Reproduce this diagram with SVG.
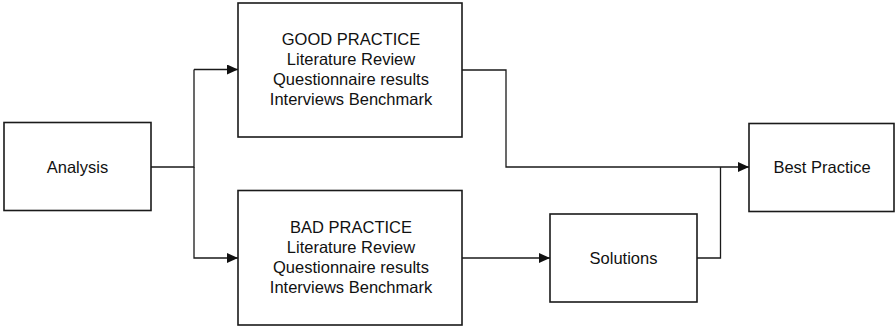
<svg xmlns="http://www.w3.org/2000/svg" width="895" height="326" viewBox="0 0 895 326">
  <style>
    .box { fill: #ffffff; stroke: #1a1a1a; stroke-width: 1.6; }
    .label { font-family: "Liberation Sans", Arial, sans-serif; font-size: 16.5px; fill: #111111; text-anchor: middle; }
    .wire { fill: none; stroke: #1a1a1a; stroke-width: 1.3; }
  </style>
  <defs>
    <marker id="arrow" viewBox="0 0 11 10" refX="11" refY="5" markerWidth="11" markerHeight="10" markerUnits="userSpaceOnUse" orient="auto">
      <path d="M0,0 L11,5 L0,10 Z" fill="#111111"/>
    </marker>
  </defs>

  <rect width="895" height="326" fill="#ffffff"/>

  <g id="connectors">
    <!-- Analysis splits to both practice boxes -->
    <polyline class="wire" points="151,167 194,167 194,69.5"/>
    <line class="wire" x1="194" y1="69.5" x2="238" y2="69.5" marker-end="url(#arrow)"/>
    <polyline class="wire" points="194,167 194,258 238,258" marker-end="url(#arrow)"/>
    <!-- Good practice to best practice -->
    <polyline class="wire" points="462,70 506,70 506,167 749,167" marker-end="url(#arrow)"/>
    <!-- Bad practice to solutions -->
    <line class="wire" x1="462" y1="258" x2="550" y2="258" marker-end="url(#arrow)"/>
    <!-- Solutions joins the best practice line -->
    <polyline class="wire" points="697,258 720.5,258 720.5,167"/>
  </g>

  <g id="analysis">
    <rect class="box" x="4" y="122.5" width="147" height="88"/>
    <text class="label" x="77.5" y="172.5">Analysis</text>
  </g>

  <g id="good-practice">
    <rect class="box" x="238" y="3" width="224" height="134"/>
    <text class="label" x="351" y="45">GOOD PRACTICE</text>
    <text class="label" x="351" y="65">Literature Review</text>
    <text class="label" x="351" y="85">Questionnaire results</text>
    <text class="label" x="351" y="105">Interviews Benchmark</text>
  </g>

  <g id="bad-practice">
    <rect class="box" x="238" y="190.5" width="224" height="134.5"/>
    <text class="label" x="351" y="233">BAD PRACTICE</text>
    <text class="label" x="351" y="253">Literature Review</text>
    <text class="label" x="351" y="273">Questionnaire results</text>
    <text class="label" x="351" y="293">Interviews Benchmark</text>
  </g>

  <g id="solutions">
    <rect class="box" x="550" y="214" width="147" height="88"/>
    <text class="label" x="623.5" y="263.5">Solutions</text>
  </g>

  <g id="best-practice">
    <rect class="box" x="749" y="123.5" width="145" height="88"/>
    <text class="label" x="822" y="173">Best Practice</text>
  </g>
</svg>
